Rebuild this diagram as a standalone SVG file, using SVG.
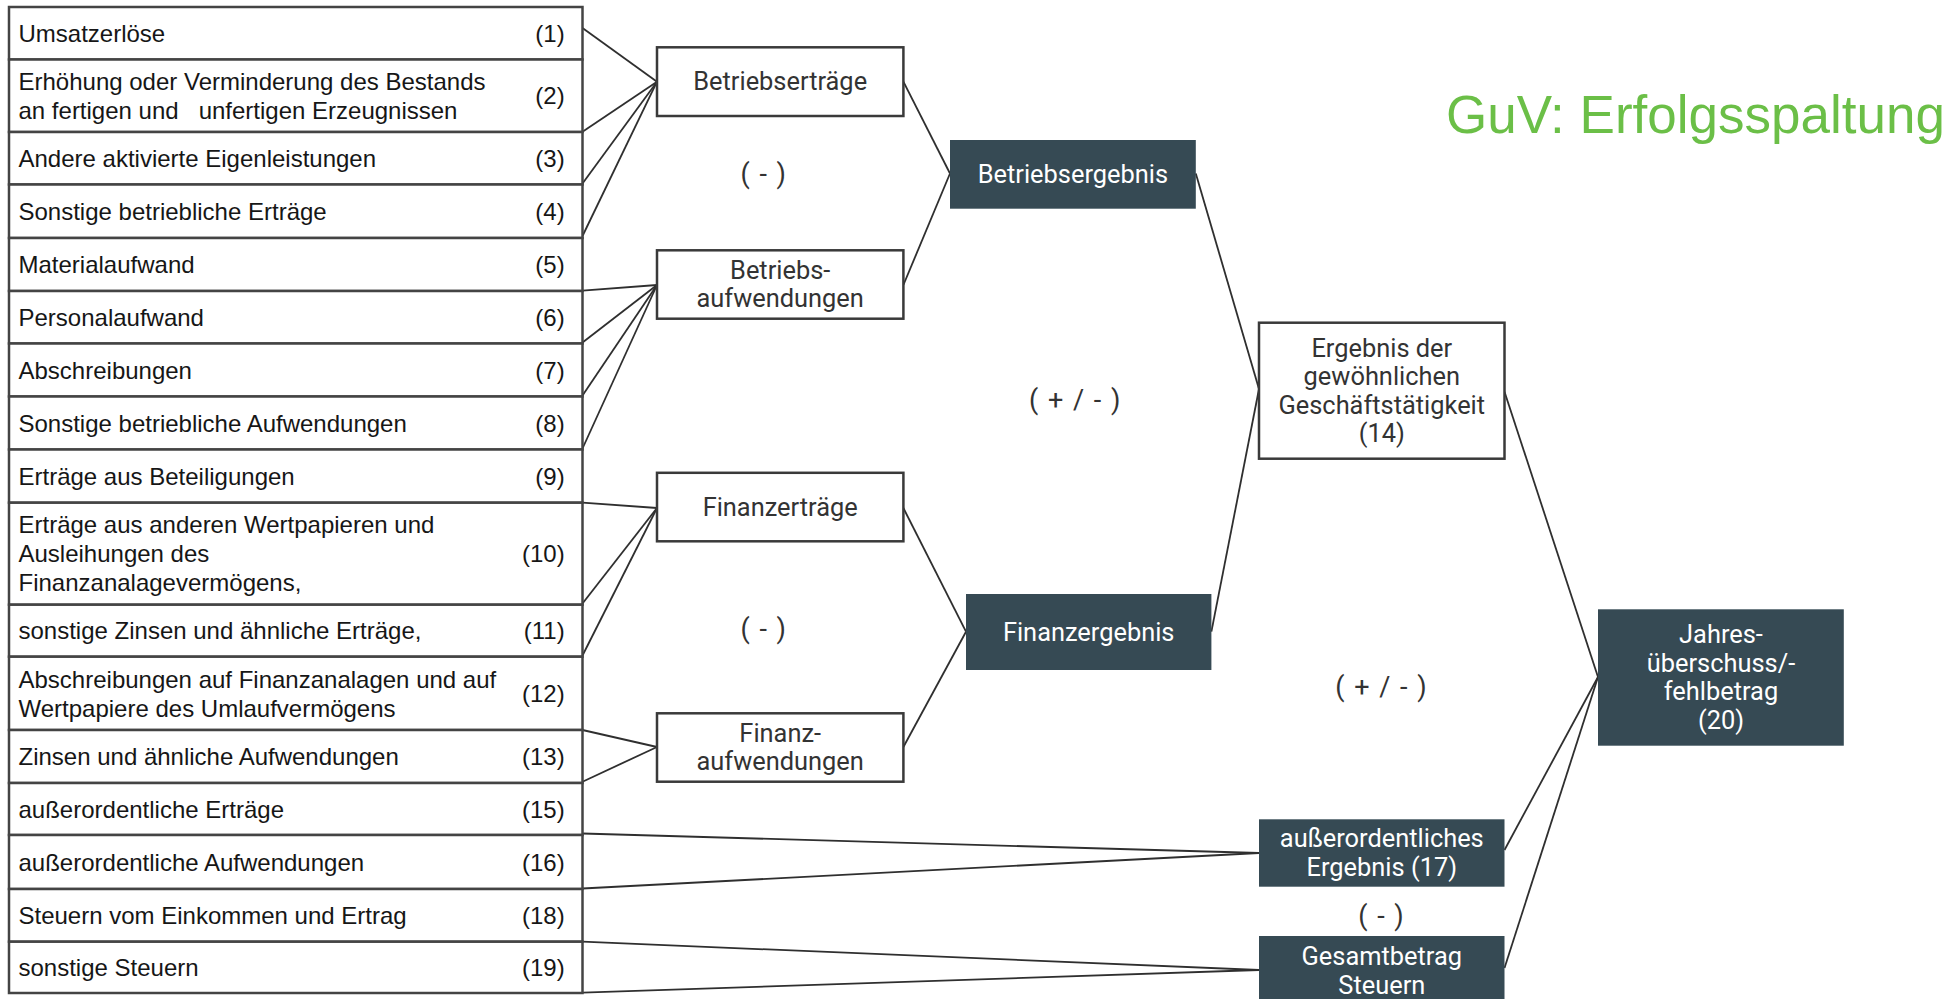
<svg xmlns="http://www.w3.org/2000/svg" width="1950" height="999" viewBox="0 0 1950 999">
  <style>
    .row { fill: #fff; stroke: #444; stroke-width: 2.5; }
    .lt { font-family: "Liberation Sans", Arial, sans-serif; font-size: 24px; fill: #161616; white-space: pre; }
    .num { text-anchor: end; }
    .box { fill: #fff; stroke: #3a3a3a; stroke-width: 2.5; }
    .dark { fill: #364a54; }
    .nt { font-family: Roboto, "Liberation Sans", sans-serif; font-size: 25.4px; fill: #333; text-anchor: middle; }
    .nw { fill: #fff; }
    .op { font-family: Roboto, "Liberation Sans", sans-serif; font-size: 27px; letter-spacing: 1.5px; fill: #333; text-anchor: middle; white-space: pre; }
    .title { font-family: "Liberation Sans", Arial, sans-serif; font-size: 53px; fill: #6bbf47; }
    .conn line { stroke: #2f2f2f; stroke-width: 1.8; }
  </style>
  <rect width="1950" height="999" fill="#fff"/>

  <!-- connectors -->
  <g id="connectors" class="conn">
    <!-- into Betriebserträge -->
    <line x1="582.5" y1="28" x2="657" y2="81.7"/>
    <line x1="582.5" y1="131.7" x2="657" y2="81.7"/>
    <line x1="582.5" y1="183.5" x2="657" y2="81.7"/>
    <line x1="582.5" y1="236" x2="657" y2="81.7"/>
    <!-- into Betriebsaufwendungen -->
    <line x1="582.5" y1="290.7" x2="657" y2="285"/>
    <line x1="582.5" y1="342.5" x2="657" y2="285"/>
    <line x1="582.5" y1="395.5" x2="657" y2="285"/>
    <line x1="582.5" y1="448.5" x2="657" y2="285"/>
    <!-- into Finanzerträge -->
    <line x1="582.5" y1="502.7" x2="657" y2="508"/>
    <line x1="582.5" y1="603.5" x2="657" y2="508"/>
    <line x1="582.5" y1="655.5" x2="657" y2="508"/>
    <!-- into Finanzaufwendungen -->
    <line x1="582.5" y1="730" x2="657" y2="747"/>
    <line x1="582.5" y1="781.7" x2="657" y2="747"/>
    <!-- into außerordentliches Ergebnis -->
    <line x1="582.5" y1="833.5" x2="1259" y2="853"/>
    <line x1="582.5" y1="888.5" x2="1259" y2="853"/>
    <!-- into Gesamtbetrag Steuern -->
    <line x1="582.5" y1="941.7" x2="1259" y2="970"/>
    <line x1="582.5" y1="992.7" x2="1259" y2="970"/>
    <!-- into Betriebsergebnis -->
    <line x1="903.4" y1="81.7" x2="950" y2="173.5"/>
    <line x1="903.4" y1="285" x2="950" y2="173.5"/>
    <!-- into Finanzergebnis -->
    <line x1="903.4" y1="508" x2="966" y2="631.7"/>
    <line x1="903.4" y1="747" x2="966" y2="631.7"/>
    <!-- into Ergebnis der gewöhnlichen Geschäftstätigkeit -->
    <line x1="1195.8" y1="173.5" x2="1259" y2="389"/>
    <line x1="1211.4" y1="631.7" x2="1259" y2="389"/>
    <!-- into Jahresüberschuss/-fehlbetrag -->
    <line x1="1504.5" y1="391.7" x2="1598" y2="677"/>
    <line x1="1504.5" y1="850" x2="1598" y2="677"/>
    <line x1="1504.5" y1="968" x2="1598" y2="677"/>
  </g>

  <!-- left list of positions -->
  <g id="r1"><rect class="row" x="9" y="7" width="573.5" height="52.5"/>
    <text class="lt" x="18.5" y="41.9">Umsatzerlöse</text><text class="lt num" x="564.7" y="41.9">(1)</text></g>
  <g id="r2"><rect class="row" x="9" y="59.5" width="573.5" height="72.5"/>
    <text class="lt" x="18.5" y="89.9">Erhöhung oder Verminderung des Bestands</text>
    <text class="lt" x="18.5" y="118.9">an fertigen und   unfertigen Erzeugnissen</text>
    <text class="lt num" x="564.7" y="104.4">(2)</text></g>
  <g id="r3"><rect class="row" x="9" y="132" width="573.5" height="52.5"/>
    <text class="lt" x="18.5" y="166.9">Andere aktivierte Eigenleistungen</text><text class="lt num" x="564.7" y="166.9">(3)</text></g>
  <g id="r4"><rect class="row" x="9" y="184.5" width="573.5" height="53.5"/>
    <text class="lt" x="18.5" y="219.9">Sonstige betriebliche Erträge</text><text class="lt num" x="564.7" y="219.9">(4)</text></g>
  <g id="r5"><rect class="row" x="9" y="238" width="573.5" height="53"/>
    <text class="lt" x="18.5" y="273.1">Materialaufwand</text><text class="lt num" x="564.7" y="273.1">(5)</text></g>
  <g id="r6"><rect class="row" x="9" y="291" width="573.5" height="52.5"/>
    <text class="lt" x="18.5" y="325.9">Personalaufwand</text><text class="lt num" x="564.7" y="325.9">(6)</text></g>
  <g id="r7"><rect class="row" x="9" y="343.5" width="573.5" height="53"/>
    <text class="lt" x="18.5" y="378.6">Abschreibungen</text><text class="lt num" x="564.7" y="378.6">(7)</text></g>
  <g id="r8"><rect class="row" x="9" y="396.5" width="573.5" height="53"/>
    <text class="lt" x="18.5" y="431.6">Sonstige betriebliche Aufwendungen</text><text class="lt num" x="564.7" y="431.6">(8)</text></g>
  <g id="r9"><rect class="row" x="9" y="449.5" width="573.5" height="53.2"/>
    <text class="lt" x="18.5" y="484.7">Erträge aus Beteiligungen</text><text class="lt num" x="564.7" y="484.7">(9)</text></g>
  <g id="r10"><rect class="row" x="9" y="502.7" width="573.5" height="102"/>
    <text class="lt" x="18.5" y="533.3">Erträge aus anderen Wertpapieren und</text>
    <text class="lt" x="18.5" y="562.3">Ausleihungen des</text>
    <text class="lt" x="18.5" y="591.3">Finanzanalagevermögens,</text>
    <text class="lt num" x="564.7" y="562.3">(10)</text></g>
  <g id="r11"><rect class="row" x="9" y="604.7" width="573.5" height="52"/>
    <text class="lt" x="18.5" y="639.3">sonstige Zinsen und ähnliche Erträge,</text><text class="lt num" x="564.7" y="639.3">(11)</text></g>
  <g id="r12"><rect class="row" x="9" y="656.7" width="573.5" height="73.3"/>
    <text class="lt" x="18.5" y="687.5">Abschreibungen auf Finanzanalagen und auf</text>
    <text class="lt" x="18.5" y="716.5">Wertpapiere des Umlaufvermögens</text>
    <text class="lt num" x="564.7" y="702">(12)</text></g>
  <g id="r13"><rect class="row" x="9" y="730" width="573.5" height="53"/>
    <text class="lt" x="18.5" y="765.1">Zinsen und ähnliche Aufwendungen</text><text class="lt num" x="564.7" y="765.1">(13)</text></g>
  <g id="r15"><rect class="row" x="9" y="783" width="573.5" height="52"/>
    <text class="lt" x="18.5" y="817.6">außerordentliche Erträge</text><text class="lt num" x="564.7" y="817.6">(15)</text></g>
  <g id="r16"><rect class="row" x="9" y="835" width="573.5" height="54"/>
    <text class="lt" x="18.5" y="870.6">außerordentliche Aufwendungen</text><text class="lt num" x="564.7" y="870.6">(16)</text></g>
  <g id="r18"><rect class="row" x="9" y="889" width="573.5" height="52.7"/>
    <text class="lt" x="18.5" y="924">Steuern vom Einkommen und Ertrag</text><text class="lt num" x="564.7" y="924">(18)</text></g>
  <g id="r19"><rect class="row" x="9" y="941.7" width="573.5" height="51.3"/>
    <text class="lt" x="18.5" y="976">sonstige Steuern</text><text class="lt num" x="564.7" y="976">(19)</text></g>

  <!-- first aggregation level -->
  <g id="betriebsertraege"><rect class="box" x="657" y="47.3" width="246.4" height="68.7"/>
    <text class="nt" x="780.2" y="90.3">Betriebserträge</text></g>
  <g id="betriebsaufwendungen"><rect class="box" x="657" y="250.3" width="246.4" height="68.4"/>
    <text class="nt" x="780.2" y="278.9">Betriebs-</text><text class="nt" x="780.2" y="307.4">aufwendungen</text></g>
  <g id="finanzertraege"><rect class="box" x="657" y="472.8" width="246.4" height="68.5"/>
    <text class="nt" x="780.2" y="515.6">Finanzerträge</text></g>
  <g id="finanzaufwendungen"><rect class="box" x="657" y="713.3" width="246.4" height="68.4"/>
    <text class="nt" x="780.2" y="741.9">Finanz-</text><text class="nt" x="780.2" y="770.4">aufwendungen</text></g>

  <!-- results -->
  <g id="betriebsergebnis"><rect class="dark" x="950" y="140" width="245.8" height="68.7"/>
    <text class="nt nw" x="1072.9" y="182.9">Betriebsergebnis</text></g>
  <g id="finanzergebnis"><rect class="dark" x="966" y="594" width="245.4" height="76"/>
    <text class="nt nw" x="1088.7" y="640.6">Finanzergebnis</text></g>
  <g id="ergebnis-gewoehnlich"><rect class="box" x="1259" y="322.7" width="245.5" height="136"/>
    <text class="nt" x="1381.8" y="356.5">Ergebnis der</text>
    <text class="nt" x="1381.8" y="385">gewöhnlichen</text>
    <text class="nt" x="1381.8" y="413.5">Geschäftstätigkeit</text>
    <text class="nt" x="1381.8" y="442">(14)</text></g>
  <g id="ao-ergebnis"><rect class="dark" x="1259" y="819.3" width="245.5" height="67.4"/>
    <text class="nt nw" x="1381.8" y="847">außerordentliches</text>
    <text class="nt nw" x="1381.8" y="876.3">Ergebnis (17)</text></g>
  <g id="steuern"><rect class="dark" x="1259" y="936" width="245.5" height="63"/>
    <text class="nt nw" x="1381.8" y="965">Gesamtbetrag</text>
    <text class="nt nw" x="1381.8" y="993.5">Steuern</text></g>
  <g id="jahresergebnis"><rect class="dark" x="1598" y="609.3" width="245.8" height="136.4"/>
    <text class="nt nw" x="1721" y="643.4">Jahres-</text>
    <text class="nt nw" x="1721" y="671.9">überschuss/-</text>
    <text class="nt nw" x="1721" y="700.4">fehlbetrag</text>
    <text class="nt nw" x="1721" y="728.9">(20)</text></g>

  <!-- operators -->
  <g id="operators">
    <text class="op" x="764" y="183">( - )</text>
    <text class="op" x="764" y="638">( - )</text>
    <text class="op" x="1075.5" y="409">( + / - )</text>
    <text class="op" x="1381.7" y="696">( + / - )</text>
    <text class="op" x="1381.7" y="925">( - )</text>
  </g>

  <text id="title" class="title" x="1446" y="133">GuV: Erfolgsspaltung</text>
</svg>
